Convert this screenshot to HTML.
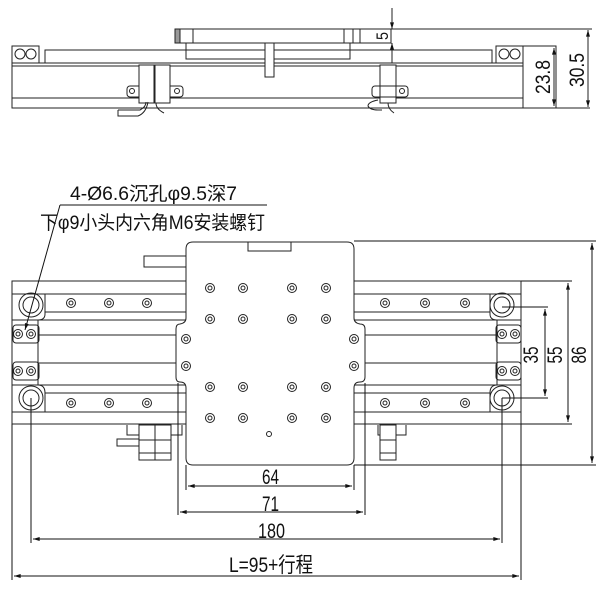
<!DOCTYPE html>
<html><head><meta charset="utf-8"><style>
html,body{margin:0;padding:0;background:#fff;}
svg{display:block;}
text{font-family:"Liberation Sans","Noto Sans CJK SC",sans-serif;fill:#111;}
</style></head><body>
<svg width="600" height="589" viewBox="0 0 600 589" xmlns="http://www.w3.org/2000/svg">
<defs>
<marker id="a" viewBox="0 0 10 6" refX="10" refY="3" markerWidth="10" markerHeight="4" orient="auto-start-reverse" markerUnits="userSpaceOnUse"><path d="M0,0L10,3L0,6z" fill="#111"/></marker>
</defs>
<g fill="none" stroke="#222" stroke-width="1">
<!-- ===== TOP VIEW ===== -->
<rect x="175" y="29" width="185" height="14"/>
<rect x="175" y="29" width="5" height="14" fill="#999"/>
<line x1="193" y1="29" x2="193" y2="43"/>
<line x1="344" y1="29" x2="344" y2="43"/>
<line x1="353" y1="29" x2="353" y2="43"/>
<rect x="186" y="43" width="164" height="16"/>
<rect x="45" y="50" width="447" height="13"/>
<rect x="12" y="46" width="27" height="17"/>
<circle cx="20" cy="54" r="5"/><circle cx="31" cy="54" r="5"/>
<rect x="496" y="46" width="27" height="17"/>
<circle cx="504" cy="54" r="5"/><circle cx="515" cy="54" r="5"/>
<rect x="12" y="63" width="511" height="45"/>
<line x1="12" y1="66" x2="523" y2="66"/>
<line x1="12" y1="98" x2="523" y2="98"/>
<rect x="265" y="43" width="9" height="34" fill="#fff"/>
<rect x="127" y="86" width="56" height="11" rx="3"/>
<circle cx="132" cy="91" r="2.5"/><circle cx="177" cy="91" r="2.5"/>
<rect x="139" y="65" width="15" height="38" fill="#fff"/>
<rect x="155" y="65" width="15" height="38" fill="#fff"/>
<path d="M118,110 h22 q6,-3 6,-8 M118,110 v6 h20 q8,-3 10,-14 M156,103 q0,6 8,10"/>
<rect x="380" y="65" width="16" height="38" fill="#fff"/>
<rect x="372" y="86" width="36" height="11" rx="3"/>
<circle cx="402" cy="91" r="2.5"/>
<path d="M378,100 q-10,2 -10,6 q2,4 10,4 h4 M388,103 q0,6 6,10"/>
<!-- top dims -->
<rect x="360" y="29" width="31" height="14"/>
<line x1="392" y1="8" x2="392" y2="29" marker-end="url(#a)"/>
<line x1="392" y1="63" x2="392" y2="43" marker-end="url(#a)"/>
<line x1="360" y1="29" x2="592" y2="29"/>
<rect x="523" y="46" width="33" height="62"/>
<line x1="554" y1="48" x2="554" y2="106" marker-start="url(#a)" marker-end="url(#a)"/>
<line x1="588" y1="30" x2="588" y2="107" marker-start="url(#a)" marker-end="url(#a)"/>
<line x1="523" y1="108" x2="590" y2="108"/>

<!-- ===== BOTTOM VIEW ===== -->
<rect x="12" y="281" width="509" height="143"/>
<line x1="12" y1="294" x2="521" y2="294"/>
<line x1="45" y1="312" x2="490" y2="312"/>
<line x1="12" y1="320" x2="521" y2="320"/>
<line x1="38" y1="335" x2="497" y2="335"/>
<line x1="38" y1="363" x2="497" y2="363"/>
<line x1="12" y1="385" x2="521" y2="385"/>
<line x1="45" y1="393" x2="490" y2="393"/>
<line x1="12" y1="412" x2="521" y2="412"/>
<path d="M12,294 H45 V314 q0,6 -7,6 V385"/>
<path d="M45,412 V393 q0,-8 -7,-8"/>
<path d="M521,294 H490 V314 q0,6 7,6 V385"/>
<path d="M490,412 V393 q0,-8 7,-8"/>
<rect x="13" y="325" width="26" height="18" rx="3"/>
<rect x="13" y="362" width="26" height="18" rx="3"/>
<rect x="496" y="325" width="25" height="18" rx="3"/>
<rect x="496" y="362" width="25" height="18" rx="3"/>
<g>
<circle cx="31" cy="305" r="12"/><circle cx="31" cy="305" r="8"/>
<circle cx="31" cy="398" r="12"/><circle cx="31" cy="398" r="8"/>
<circle cx="502" cy="305" r="12"/><circle cx="502" cy="305" r="8"/>
<circle cx="502" cy="398" r="12"/><circle cx="502" cy="398" r="8"/>
</g>
<g>
<circle cx="18" cy="334" r="4.5"/><circle cx="18" cy="334" r="2"/>
<circle cx="31" cy="334" r="4.5"/><circle cx="31" cy="334" r="2"/>
<circle cx="18" cy="371" r="4.5"/><circle cx="18" cy="371" r="2"/>
<circle cx="31" cy="371" r="4.5"/><circle cx="31" cy="371" r="2"/>
<circle cx="502" cy="334" r="4.5"/><circle cx="502" cy="334" r="2"/>
<circle cx="515" cy="334" r="4.5"/><circle cx="515" cy="334" r="2"/>
<circle cx="502" cy="371" r="4.5"/><circle cx="502" cy="371" r="2"/>
<circle cx="515" cy="371" r="4.5"/><circle cx="515" cy="371" r="2"/>
</g>
<g>
<circle cx="71" cy="303" r="4.5"/><circle cx="71" cy="303" r="2"/>
<circle cx="109" cy="303" r="4.5"/><circle cx="109" cy="303" r="2"/>
<circle cx="147" cy="303" r="4.5"/><circle cx="147" cy="303" r="2"/>
<circle cx="385" cy="303" r="4.5"/><circle cx="385" cy="303" r="2"/>
<circle cx="425" cy="303" r="4.5"/><circle cx="425" cy="303" r="2"/>
<circle cx="465" cy="303" r="4.5"/><circle cx="465" cy="303" r="2"/>
<circle cx="71" cy="403" r="4.5"/><circle cx="71" cy="403" r="2"/>
<circle cx="109" cy="403" r="4.5"/><circle cx="109" cy="403" r="2"/>
<circle cx="147" cy="403" r="4.5"/><circle cx="147" cy="403" r="2"/>
<circle cx="385" cy="403" r="4.5"/><circle cx="385" cy="403" r="2"/>
<circle cx="425" cy="403" r="4.5"/><circle cx="425" cy="403" r="2"/>
<circle cx="465" cy="403" r="4.5"/><circle cx="465" cy="403" r="2"/>
</g>
<rect x="144" y="256" width="43" height="11"/>
<path d="M127,425 v10 h55 v-10"/>
<rect x="139" y="425" width="32" height="35" fill="#fff"/>
<line x1="155" y1="425" x2="155" y2="460"/><line x1="139" y1="440" x2="171" y2="440"/><line x1="139" y1="453" x2="171" y2="453"/>
<rect x="117" y="439" width="22" height="7"/>
<path d="M378,425 v10 h28 v-10"/>
<rect x="380" y="425" width="16" height="35" fill="#fff"/>
<line x1="380" y1="440" x2="396" y2="440"/><line x1="380" y1="453" x2="396" y2="453"/>
<path d="M193,242 H347 q7,0 7,7 V318 q0,5 6,6 q5,0 5,5 V377 q0,5 -5,5 q-6,0 -6,6 V458 q0,7 -7,7 H193 q-7,0 -7,-7 V388 q0,-6 -6,-6 q-4,0 -4,-5 V329 q0,-5 4,-5 q6,-1 6,-6 V249 q0,-7 7,-7z" fill="#fff"/>
<path d="M248,242 v9 h43 v-9"/>
<g>
<circle cx="210" cy="288" r="4.5"/><circle cx="210" cy="288" r="2"/>
<circle cx="243" cy="288" r="4.5"/><circle cx="243" cy="288" r="2"/>
<circle cx="292" cy="288" r="4.5"/><circle cx="292" cy="288" r="2"/>
<circle cx="326" cy="288" r="4.5"/><circle cx="326" cy="288" r="2"/>
<circle cx="210" cy="319" r="4.5"/><circle cx="210" cy="319" r="2"/>
<circle cx="243" cy="319" r="4.5"/><circle cx="243" cy="319" r="2"/>
<circle cx="292" cy="319" r="4.5"/><circle cx="292" cy="319" r="2"/>
<circle cx="326" cy="319" r="4.5"/><circle cx="326" cy="319" r="2"/>
<circle cx="210" cy="387" r="4.5"/><circle cx="210" cy="387" r="2"/>
<circle cx="243" cy="387" r="4.5"/><circle cx="243" cy="387" r="2"/>
<circle cx="292" cy="387" r="4.5"/><circle cx="292" cy="387" r="2"/>
<circle cx="326" cy="387" r="4.5"/><circle cx="326" cy="387" r="2"/>
<circle cx="210" cy="418" r="4.5"/><circle cx="210" cy="418" r="2"/>
<circle cx="243" cy="418" r="4.5"/><circle cx="243" cy="418" r="2"/>
<circle cx="292" cy="418" r="4.5"/><circle cx="292" cy="418" r="2"/>
<circle cx="326" cy="418" r="4.5"/><circle cx="326" cy="418" r="2"/>
<circle cx="186" cy="339" r="4.5"/><circle cx="186" cy="339" r="2"/>
<circle cx="186" cy="366" r="4.5"/><circle cx="186" cy="366" r="2"/>
<circle cx="354" cy="339" r="4.5"/><circle cx="354" cy="339" r="2"/>
<circle cx="354" cy="366" r="4.5"/><circle cx="354" cy="366" r="2"/>
<circle cx="269" cy="434" r="2.5"/>
</g>
</g>
<g fill="none" stroke="#111" stroke-width="1">
<line x1="354" y1="241" x2="596" y2="241"/>
<line x1="354" y1="465" x2="596" y2="465"/>
<line x1="592" y1="243" x2="592" y2="463" marker-start="url(#a)" marker-end="url(#a)"/>
<line x1="521" y1="281" x2="572" y2="281"/>
<line x1="521" y1="424" x2="572" y2="424"/>
<line x1="568" y1="283" x2="568" y2="422" marker-start="url(#a)" marker-end="url(#a)"/>
<line x1="502" y1="307" x2="548" y2="307"/>
<line x1="502" y1="398" x2="548" y2="398"/>
<line x1="545" y1="309" x2="545" y2="396" marker-start="url(#a)" marker-end="url(#a)"/>
<line x1="186" y1="465" x2="186" y2="490"/><line x1="354" y1="465" x2="354" y2="490"/>
<line x1="188" y1="486" x2="352" y2="486" marker-start="url(#a)" marker-end="url(#a)"/>
<line x1="178" y1="383" x2="178" y2="515" /><line x1="365" y1="383" x2="365" y2="515"/>
<line x1="180" y1="512" x2="363" y2="512" marker-start="url(#a)" marker-end="url(#a)"/>
<line x1="31" y1="398" x2="31" y2="543"/><line x1="502" y1="398" x2="502" y2="543"/>
<line x1="33" y1="539" x2="500" y2="539" marker-start="url(#a)" marker-end="url(#a)"/>
<line x1="12" y1="424" x2="12" y2="580"/><line x1="521" y1="424" x2="521" y2="580"/>
<line x1="14" y1="576" x2="519" y2="576" marker-start="url(#a)" marker-end="url(#a)"/>
<line x1="60" y1="205" x2="267" y2="205"/>
<line x1="60" y1="205" x2="25" y2="330" marker-end="url(#a)"/>
</g>
<g font-size="21">
<text x="262" y="484" textLength="17" lengthAdjust="spacingAndGlyphs">64</text>
<text x="262" y="511" textLength="17" lengthAdjust="spacingAndGlyphs">71</text>
<text x="258" y="538" textLength="27" lengthAdjust="spacingAndGlyphs">180</text>
<text x="229" y="572" textLength="84" lengthAdjust="spacingAndGlyphs">L=95+行程</text>
<text transform="translate(538,355) rotate(-90)" text-anchor="middle" textLength="17" lengthAdjust="spacingAndGlyphs">35</text>
<text transform="translate(562,355) rotate(-90)" text-anchor="middle" textLength="17" lengthAdjust="spacingAndGlyphs">55</text>
<text transform="translate(586,355) rotate(-90)" text-anchor="middle" textLength="17" lengthAdjust="spacingAndGlyphs">86</text>
<text transform="translate(388,36) rotate(-90)" text-anchor="middle" font-size="17" textLength="8" lengthAdjust="spacingAndGlyphs">5</text>
<text transform="translate(550,77) rotate(-90)" text-anchor="middle" textLength="34" lengthAdjust="spacingAndGlyphs">23.8</text>
<text transform="translate(584,70) rotate(-90)" text-anchor="middle" textLength="34" lengthAdjust="spacingAndGlyphs">30.5</text>
</g>
<g font-size="19">
<text x="70" y="200" textLength="167" lengthAdjust="spacingAndGlyphs">4-Ø6.6沉孔φ9.5深7</text>
<text x="40" y="229" textLength="225" lengthAdjust="spacingAndGlyphs">下φ9小头内六角M6安装螺钉</text>
</g>
</svg>
</body></html>
